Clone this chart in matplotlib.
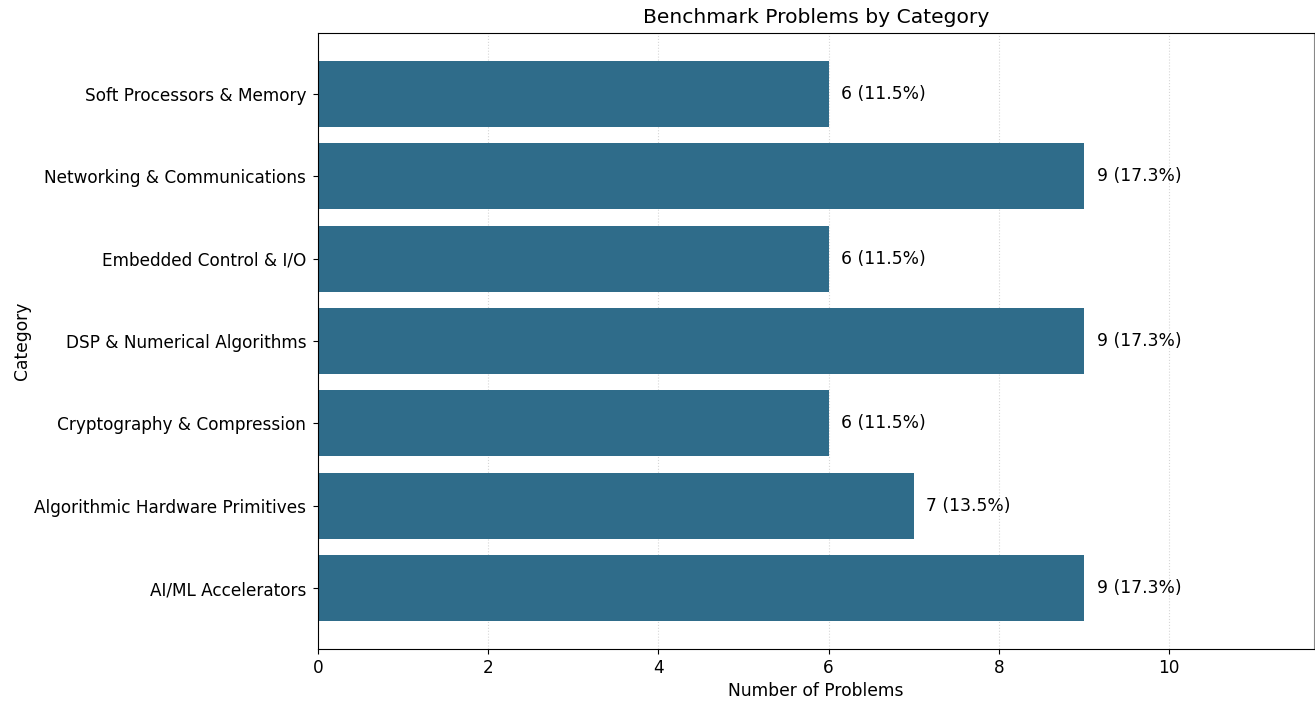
import matplotlib
matplotlib.use("Agg")
import matplotlib.pyplot as plt

categories = ["AI/ML Accelerators", "Algorithmic Hardware Primitives",
              "Cryptography & Compression", "DSP & Numerical Algorithms",
              "Embedded Control & I/O", "Networking & Communications",
              "Soft Processors & Memory"]
counts = [9, 7, 6, 9, 6, 9, 6]
total = sum(counts)

fig, ax = plt.subplots(figsize=(13.15, 7.05), dpi=100)
fig.subplots_adjust(left=0.2418, right=0.999, top=0.953, bottom=0.0794)

ax.set_axisbelow(True)
ax.grid(axis="x", linestyle=":", color="#cccccc", alpha=0.8, linewidth=0.8)
bars = ax.barh(categories, counts, color="#2f6c8a", height=0.8)
for b, c in zip(bars, counts):
    ax.text(b.get_width() + 0.15, b.get_y() + b.get_height() / 2,
            f"{c} ({c / total * 100:.1f}%)", va="center", ha="left", fontsize=12.3)

ax.set_xlim(0, max(counts) * 1.3)
ax.set_title("Benchmark Problems by Category", fontsize=14.6, pad=7)
ax.set_xlabel("Number of Problems", fontsize=12.3)
ax.set_ylabel("Category", fontsize=12.3, labelpad=2)
ax.tick_params(labelsize=12.15)
ax.tick_params(axis="y", pad=5)
ax.spines["right"].set_color("#888888")

fig.savefig("out.png", dpi=100)
